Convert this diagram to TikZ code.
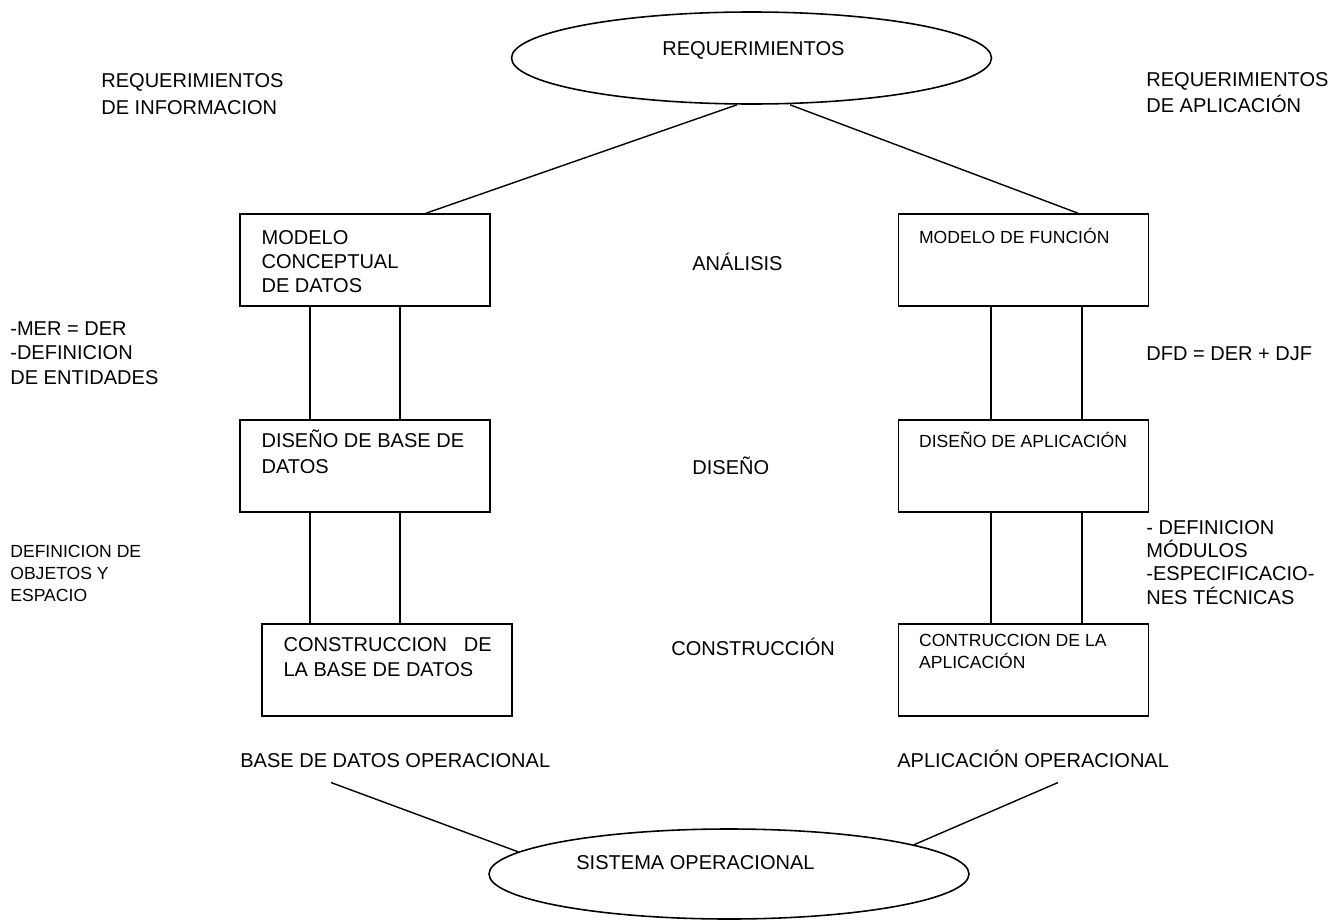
\documentclass[tikz,border=0pt]{standalone}
\usepackage{fontspec}
\setmainfont{Liberation Sans}
\usetikzlibrary{shapes.geometric}

\begin{document}
\begin{tikzpicture}[
  txt/.style={inner sep=0pt, anchor=base west, align=left, font=\fontsize{11.4}{14}\selectfont},
  smalltxt/.style={txt, font=\fontsize{10}{12.4}\selectfont},
  caja/.style={draw, line width=0.9pt, minimum width=5cm, minimum height=1.84cm, inner sep=0pt},
  ovalo/.style={draw, ellipse, line width=0.9pt, inner sep=0pt, minimum width=9.6cm},
  linea/.style={line width=0.8pt}]
  \useasboundingbox (0,0) rectangle (26.84,-18.44);
  \node[ovalo, minimum height=1.84cm] (req) at (15.03,-1.16) {};
  \node[txt] (reqtxt) at (13.24,-1.10) {REQUERIMIENTOS};
  \node[txt, font=\fontsize{11.4}{15.2}\selectfont] (reqinfo) at (2.02,-2.28) {REQUERIMIENTOS\\DE INFORMACION};
  \node[txt, font=\fontsize{11.4}{14.6}\selectfont] (reqapl) at (22.92,-2.24) {REQUERIMIENTOS\\DE APLICACIÓN};
  \node[caja] (mcd) at (7.30,-5.20) {};
  \node[caja] (dbd) at (7.30,-9.32) {};
  \node[caja] (cbd) at (7.74,-13.40) {};
  \node[caja] (rmf) at (20.47,-5.20) {};
  \node[caja] (rda) at (20.47,-9.32) {};
  \node[caja] (rca) at (20.47,-13.40) {};
  \node[txt, font=\fontsize{11.4}{13.7}\selectfont] (mcdtxt) at ([shift={(0.44,-1.58)}]mcd.north west) {MODELO\\CONCEPTUAL\\DE DATOS};
  \node[txt, font=\fontsize{11.4}{14.8}\selectfont] (dbdtxt) at ([shift={(0.44,-1.08)}]dbd.north west) {DISEÑO DE BASE DE\\DATOS};
  \node[txt, font=\fontsize{11.4}{14.2}\selectfont] (cbdtxt) at ([shift={(0.44,-1.06)}]cbd.north west) {CONSTRUCCION~~~DE\\LA BASE DE DATOS};
  \node[smalltxt] (rmftxt) at ([shift={(0.42,-0.60)}]rmf.north west) {MODELO DE FUNCIÓN};
  \node[smalltxt] (rdatxt) at ([shift={(0.42,-0.56)}]rda.north west) {DISEÑO DE APLICACIÓN};
  \node[smalltxt, font=\fontsize{10}{12.2}\selectfont] (rcatxt) at ([shift={(0.42,-0.90)}]rca.north west) {CONTRUCCION DE LA\\APLICACIÓN};
  \node[txt] (analisis) at (13.84,-5.40) {ANÁLISIS};
  \node[txt] (diseno) at (13.84,-9.48) {DISEÑO};
  \node[txt] (constr) at (13.42,-13.10) {CONSTRUCCIÓN};
  \node[txt, font=\fontsize{11.4}{13.9}\selectfont] (mer) at (0.2,-7.68) {-MER = DER\\-DEFINICION\\DE ENTIDADES};
  \node[smalltxt, font=\fontsize{10}{12.5}\selectfont] (objetos) at (0.2,-12.02) {DEFINICION DE\\OBJETOS Y\\ESPACIO};
  \node[txt] (dfd) at (22.92,-7.20) {DFD = DER + DJF};
  \node[txt, font=\fontsize{11.4}{13.1}\selectfont] (modulos) at (22.92,-12.08) {- DEFINICION\\MÓDULOS\\-ESPECIFICACIO-\\NES TÉCNICAS};
  \node[txt] (bdop) at (4.8,-15.34) {BASE DE DATOS OPERACIONAL};
  \node[txt] (apop) at (17.94,-15.34) {APLICACIÓN OPERACIONAL};
  \node[ovalo, minimum height=1.80cm] (sis) at (14.58,-17.48) {};
  \node[txt] (sistxt) at (11.52,-17.38) {SISTEMA OPERACIONAL};
  \draw[linea] ([xshift=-0.29cm]req.south) -- ([xshift=1.22cm]mcd.north);
  \draw[linea] ([xshift=0.77cm]req.south) -- ([xshift=1.09cm]rmf.north);
  \draw[linea] ([xshift=-1.1cm]mcd.south) -- ([xshift=-1.1cm]dbd.north);
  \draw[linea] ([xshift=0.7cm]mcd.south) -- ([xshift=0.7cm]dbd.north);
  \draw[linea] ([xshift=-1.1cm]dbd.south) -- ([xshift=-1.1cm]dbd.south |- cbd.north);
  \draw[linea] ([xshift=0.7cm]dbd.south) -- ([xshift=0.7cm]dbd.south |- cbd.north);
  \draw[linea] ([xshift=-0.65cm]rmf.south) -- ([xshift=-0.65cm]rda.north);
  \draw[linea] ([xshift=1.17cm]rmf.south) -- ([xshift=1.17cm]rda.north);
  \draw[linea] ([xshift=-0.65cm]rda.south) -- ([xshift=-0.65cm]rca.north);
  \draw[linea] ([xshift=1.17cm]rda.south) -- ([xshift=1.17cm]rca.north);
  \draw[linea] ([shift={(1.82,-0.3)}]bdop.south west) -- (sis.174);
  \draw[linea] ([shift={(3.22,-0.3)}]apop.south west) -- (sis.9);
\end{tikzpicture}
\end{document}
